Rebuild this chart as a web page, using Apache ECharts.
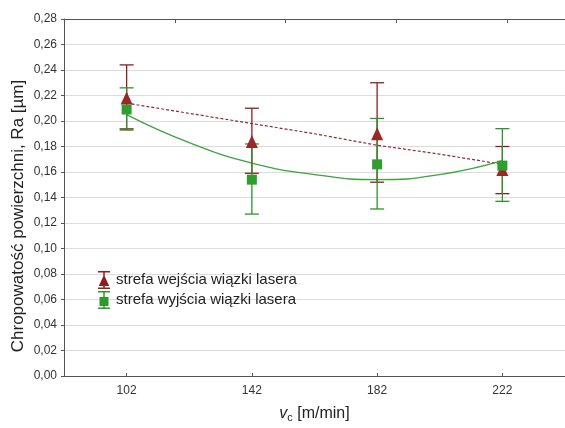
<!DOCTYPE html>
<html>
<head>
<meta charset="utf-8">
<script src="https://cdn.jsdelivr.net/npm/echarts@6/dist/echarts.min.js"></script>
<style>
  html, body { margin: 0; padding: 0; background: #fff; }
  #chart { width: 565px; height: 428px; }
</style>
</head>
<body>
<div id="chart"></div>
<script>
// wartosci
var speeds = [102, 142, 182, 222];
var entryRa = [0.218, 0.184, 0.190, 0.162];
var entryLow = [0.193, 0.159, 0.152, 0.143];
var entryHigh = [0.244, 0.210, 0.230, 0.180];
var exitRa = [0.209, 0.154, 0.166, 0.165];
var exitLow = [0.194, 0.127, 0.131, 0.137];
var exitHigh = [0.226, 0.182, 0.202, 0.194];
// linie trendu
var fitX = [102, 122, 142, 162, 182, 202, 222];
var entryFit = [0.214, 0.206, 0.198, 0.190, 0.181, 0.174, 0.166];
var exitFit = [0.205, 0.183, 0.167, 0.158, 0.154, 0.158, 0.169];

var red = '#8e1f1f';
var green = '#2a9a2a';
var font = "'Liberation Sans', Arial, sans-serif";

function pairs(xs, ys) {
    var out = [];
    for (var i = 0; i < xs.length; i++) out.push([xs[i], ys[i]]);
    return out;
}
function bars(xs, lo, hi) {
    var out = [];
    for (var i = 0; i < xs.length; i++) out.push([xs[i], lo[i], hi[i]]);
    return out;
}
function errorBar(color) {
    return function (params, api) {
        var top = api.coord([api.value(0), api.value(2)]);
        var bot = api.coord([api.value(0), api.value(1)]);
        var w = 7;
        var style = { stroke: color, lineWidth: 1.3 };
        return {
            type: 'group',
            children: [
                { type: 'line', shape: { x1: top[0], y1: top[1], x2: bot[0], y2: bot[1] }, style: style },
                { type: 'line', shape: { x1: top[0] - w, y1: top[1], x2: top[0] + w, y2: top[1] }, style: style },
                { type: 'line', shape: { x1: bot[0] - w, y1: bot[1], x2: bot[0] + w, y2: bot[1] }, style: style }
            ]
        };
    };
}

var iconTri = 'path://M2,0H18V2H2Z M9,0H11V24H9Z M2,22H18V24H2Z M10,5L17,20H3Z';
var iconSq = 'path://M2,0H18V2H2Z M9,0H11V24H9Z M2,22H18V24H2Z M4,8H16V20H4Z';

var chart = echarts.init(document.getElementById('chart'));
var option = {
    animation: false,
    textStyle: { fontFamily: font },
    grid: { left: 64, top: 19, right: -4, bottom: 48 },
    legend: {
        orient: 'vertical',
        left: 93,
        top: 266,
        itemWidth: 14,
        itemHeight: 18,
        itemGap: 2,
        textStyle: { fontSize: 15, color: '#222', fontFamily: font },
        data: [
            { name: 'strefa wejścia wiązki lasera', icon: iconTri, itemStyle: { color: red } },
            { name: 'strefa wyjścia wiązki lasera', icon: iconSq, itemStyle: { color: green } }
        ]
    },
    xAxis: [{
        type: 'value',
        min: 82,
        max: 242,
        name: '{i|v}{s|c} [m/min]',
        nameLocation: 'middle',
        nameGap: 28,
        nameTextStyle: {
            fontSize: 16, color: '#222',
            rich: {
                i: { fontSize: 16, fontStyle: 'italic', color: '#222' },
                s: { fontSize: 11, color: '#222', padding: [8, 0, 0, 0] }
            }
        },
        axisLine: { lineStyle: { color: '#555', width: 1 } },
        axisTick: { inside: true, length: 3, lineStyle: { color: '#555' }, customValues: speeds },
        axisLabel: { fontSize: 12, color: '#333', margin: 9, customValues: speeds },
        splitLine: { show: false }
    }, {
        type: 'value',
        position: 'top',
        min: 0,
        max: 4.52,
        interval: 1,
        axisLine: { show: true, lineStyle: { color: '#555', width: 1 } },
        axisTick: { show: true, inside: true, length: 4, lineStyle: { color: '#555' } },
        axisLabel: { show: false },
        splitLine: { show: false }
    }],
    yAxis: {
        type: 'value',
        min: 0,
        max: 0.28,
        interval: 0.02,
        axisLine: { show: true, lineStyle: { color: '#555', width: 1 } },
        axisTick: { show: true, length: 3, lineStyle: { color: '#555' } },
        axisLabel: {
            fontSize: 12, color: '#333', margin: 7,
            formatter: function (v) { return v.toFixed(2).replace('.', ','); }
        },
        splitLine: { lineStyle: { color: '#dcdcdc', width: 1 } }
    },
    graphic: [{
        type: 'text',
        x: 18,
        y: 216,
        rotation: Math.PI / 2,
        style: {
            text: 'Chropowatość powierzchni, Ra [µm]',
            fontSize: 17,
            fontFamily: font,
            fill: '#222',
            align: 'center',
            verticalAlign: 'middle'
        }
    }],
    series: [
        {
            type: 'line', data: pairs(fitX, entryFit), symbol: 'none', silent: true,
            lineStyle: { color: '#93283a', width: 1.2, type: [3, 2] }, z: 2
        },
        {
            type: 'line', data: pairs(fitX, exitFit), symbol: 'none', smooth: true, silent: true,
            lineStyle: { color: '#3ea33e', width: 1.3 }, z: 2
        },
        { type: 'custom', data: bars(speeds, entryLow, entryHigh), renderItem: errorBar(red), z: 3 },
        { type: 'custom', data: bars(speeds, exitLow, exitHigh), renderItem: errorBar('#2b952b'), z: 4 },
        {
            name: 'strefa wejścia wiązki lasera', type: 'scatter', data: pairs(speeds, entryRa),
            symbol: 'triangle', symbolSize: [12, 13], itemStyle: { color: '#9b2828', opacity: 1 }, z: 5
        },
        {
            name: 'strefa wyjścia wiązki lasera', type: 'scatter', data: pairs(speeds, exitRa),
            symbol: 'rect', symbolSize: 10, itemStyle: { color: '#2f9e2f', opacity: 1 }, z: 6
        }
    ]
};
chart.setOption(option);
</script>
</body>
</html>
